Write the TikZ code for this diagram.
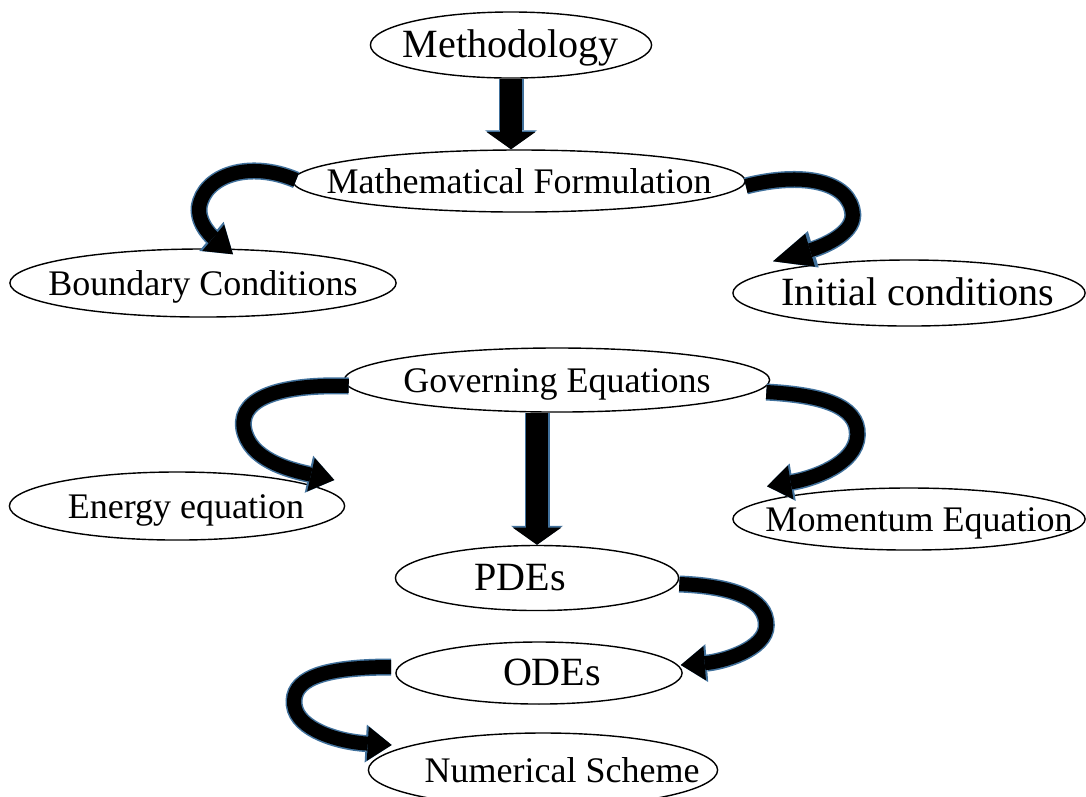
\documentclass[tikz,border=0pt]{standalone}
\usepackage{fontspec}
\setmainfont{Liberation Serif}
\usetikzlibrary{shapes.geometric,arrows.meta,calc}

\definecolor{arrowedge}{RGB}{65,113,156}

% text centred in a box of no width, pushed sideways by #1/2
\newcommand{\lbl}[2]{\makebox[0pt]{\hspace*{#1}#2}}

\tikzset{
  stage/.style={ellipse, draw, line width=0.4pt, inner sep=0pt,
    text height=.95em, text depth=.22em, font=\fontsize{10.24}{12}\selectfont},
  bigger/.style={font=\fontsize{11.4}{13}\selectfont},
  blockdown/.style={draw=black, line width=0.22cm,
    -{Triangle[length=0.19cm, width=0.52cm, scale length=0.9, scale width=0.93, line width=0pt]},
    preaction={draw=arrowedge, line width=0.25cm,
      -{Triangle[length=0.19cm, width=0.52cm, line width=0pt]}}},
  blockcurve/.style={draw=black, line width=0.14cm,
    -{Triangle[length=#1, width=0.38cm, scale length=0.92, scale width=0.9, line width=0pt]},
    preaction={draw=arrowedge, line width=0.17cm,
      -{Triangle[length=#1, width=0.38cm, line width=0pt]}}},
  blockcurve/.default=0.26cm
}

\begin{document}
\begin{tikzpicture}[x=0.01cm, y=-0.01cm]
\useasboundingbox (0,0) rectangle (1086,796);

% stages
\node[stage, bigger, minimum width=2.81cm, minimum height=0.66cm] (meth) at (511,45) {\lbl{0pt}{Methodology}};
\node[stage, minimum width=4.52cm, minimum height=0.62cm] (math) at (519,181) {\lbl{0pt}{Mathematical Formulation}};
\node[stage, minimum width=3.86cm, minimum height=0.68cm] (bc) at (203,283) {\lbl{0pt}{Boundary Conditions}};
\node[stage, bigger, minimum width=3.52cm, minimum height=0.66cm] (ic) at (909,293) {\lbl{0.18cm}{Initial conditions}};
\node[stage, minimum width=4.25cm, minimum height=0.64cm] (gov) at (557,380) {\lbl{0pt}{Governing Equations}};
\node[stage, minimum width=3.35cm, minimum height=0.68cm] (en) at (177,506) {\lbl{0.18cm}{Energy equation}};
\node[stage, minimum width=3.52cm, minimum height=0.62cm] (mom) at (909,519) {\lbl{0.2cm}{Momentum Equation}};
\node[stage, bigger, minimum width=2.83cm, minimum height=0.65cm] (pde) at (537,578) {\lbl{-0.34cm}{PDEs}};
\node[stage, bigger, minimum width=2.86cm, minimum height=0.62cm] (ode) at (539,673) {\lbl{0.26cm}{ODEs}};
\node[stage, minimum width=3.49cm, minimum height=0.74cm] (num) at (543,770) {\lbl{0.38cm}{Numerical Scheme}};

% straight block arrows
\draw[blockdown] (meth.south) -- (meth.south |- math.north);
\draw[blockdown] (pde.north |- gov.south) -- (pde.north);

% curved block arrows
\draw[blockcurve=0.28cm] ($(math.west)+(4,-1)$) .. controls +(-47,-20) and +(5,-32) .. ++(-97,27)
  .. controls +(-2,18) and +(-18,-15) .. ($(bc.north)+(30,6)$);
\draw[blockcurve=0.42cm] ($(math.east)+(0,5)$) .. controls +(55,-14) and +(-2,-35) .. ++(107,29)
  .. controls +(0,20) and +(47,-14) .. ($(ic.north)+(-136,2)$);
\draw[blockcurve] ($(gov.west)+(5,6)$) .. controls +(-60,-2) and +(-5,-33) .. ++(-105,42)
  .. controls +(5,32) and +(-44,-10) .. ($(en.east)+(-11,-26)$);
\draw[blockcurve] ($(gov.east)+(-4,12)$) .. controls +(54,3) and +(1,-30) .. ++(91,43)
  .. controls +(-1,30) and +(43,-7) .. ($(mom.north)+(-142,-1)$);
\draw[blockcurve] ($(pde.east)+(0,6)$) .. controls +(52,2) and +(0,-27) .. ++(87,41)
  .. controls +(0,25) and +(40,-3) .. ($(ode.east)+(-2,-8)$);
\draw[blockcurve] ($(ode.west)+(-4,-6)$) .. controls +(-72,0) and +(-3,-25) .. ++(-97,38)
  .. controls +(3,25) and +(-52,-3) .. ($(num.west)+(24,-25)$);
\end{tikzpicture}
\end{document}
